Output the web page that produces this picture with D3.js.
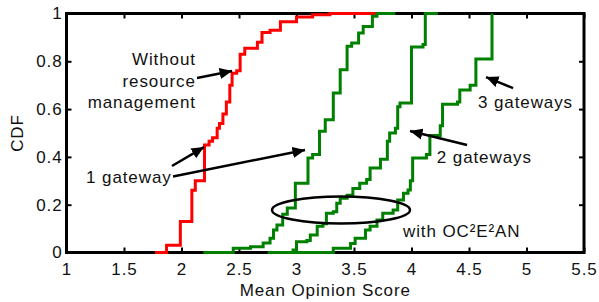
<!DOCTYPE html>
<html>
<head>
<meta charset="utf-8">
<script src="https://cdn.jsdelivr.net/npm/d3@7"></script>
<style>
  body { margin: 0; background: #fff; }
  text { font-family: "Liberation Sans", Arial, sans-serif; fill: #111; letter-spacing: 0.9px; }
</style>
</head>
<body>
<div id="chart"></div>
<script>
// step points: mean opinion score where cdf jumps, and cdf level after the jump
const noMgmtX = [1.77, 1.87, 1.99, 2.09, 2.12, 2.20, 2.24, 2.27, 2.31, 2.33, 2.36, 2.39, 2.42, 2.44, 2.48, 2.51, 2.55, 2.66, 2.70, 2.77, 2.86, 3.00, 3.14, 3.29, 3.69];
const noMgmtY = [0, 0.03, 0.13, 0.26, 0.30, 0.45, 0.465, 0.48, 0.52, 0.54, 0.58, 0.63, 0.70, 0.75, 0.76, 0.83, 0.855, 0.88, 0.92, 0.93, 0.965, 0.985, 0.995, 1, 1];

const gw1X = [2.19, 2.45, 2.60, 2.71, 2.77, 2.80, 2.83, 2.88, 2.92, 2.99, 3.10, 3.14, 3.20, 3.25, 3.32, 3.38, 3.44, 3.48, 3.54, 3.58, 3.66, 3.70, 3.86];
const gw1Y = [0, 0.018, 0.024, 0.04, 0.06, 0.094, 0.115, 0.16, 0.186, 0.29, 0.395, 0.41, 0.507, 0.555, 0.667, 0.765, 0.863, 0.877, 0.918, 0.946, 0.988, 1, 1];

const gw2X = [2.77, 2.97, 3.00, 3.09, 3.12, 3.18, 3.23, 3.26, 3.32, 3.35, 3.38, 3.44, 3.49, 3.55, 3.61, 3.64, 3.73, 3.79, 3.81, 3.86, 3.88, 3.90, 4.00, 4.10, 4.12, 4.23];
const gw2Y = [0, 0.01, 0.045, 0.05, 0.073, 0.11, 0.12, 0.164, 0.17, 0.206, 0.227, 0.24, 0.268, 0.29, 0.305, 0.354, 0.39, 0.465, 0.5, 0.52, 0.61, 0.626, 0.86, 0.87, 1, 1];

const gw3X = [2.75, 3.32, 3.47, 3.51, 3.60, 3.64, 3.70, 3.75, 3.84, 3.88, 3.93, 3.97, 3.99, 4.01, 4.13, 4.16, 4.25, 4.27, 4.40, 4.42, 4.51, 4.56, 4.70, 4.70];
const gw3Y = [0, 0.018, 0.038, 0.06, 0.094, 0.11, 0.136, 0.164, 0.178, 0.22, 0.248, 0.262, 0.30, 0.395, 0.41, 0.49, 0.53, 0.62, 0.63, 0.68, 0.70, 0.81, 1, 1];

const xTicks = [1, 1.5, 2, 2.5, 3, 3.5, 4, 4.5, 5, 5.5];
const yTicks = [0, 0.2, 0.4, 0.6, 0.8, 1];

const width = 599, height = 302;
const margin = {top: 13.5, right: 15, bottom: 49.5, left: 66.5};
const w = width - margin.left - margin.right;
const h = height - margin.top - margin.bottom;

const svg = d3.select('#chart').append('svg').attr('width', width).attr('height', height);
const g = svg.append('g').attr('transform', `translate(${margin.left},${margin.top})`);

const x = d3.scaleLinear().domain([1, 5.5]).range([0, w]);
const y = d3.scaleLinear().domain([0, 1]).range([h, 0]);

const fmt = d => String(d);

// ticks on all four sides, pointing inward
const axes = [
  [d3.axisBottom(x).tickValues(xTicks).tickFormat(fmt), `translate(0,${h})`, 10],
  [d3.axisTop(x).tickValues(xTicks).tickFormat(''), 'translate(0,0)', 10],
  [d3.axisLeft(y).tickValues(yTicks).tickFormat(fmt), 'translate(0,0)', 4],
  [d3.axisRight(y).tickValues(yTicks).tickFormat(''), `translate(${w},0)`, 4]
];
axes.forEach(([ax, tr, pad]) => {
  const a = g.append('g').attr('transform', tr)
    .call(ax.tickSizeInner(-5).tickSizeOuter(0).tickPadding(pad));
  a.select('.domain').remove();
  a.selectAll('line').attr('stroke', '#000').attr('stroke-width', 2);
  a.selectAll('text').style('font-size', '17px').attr('fill', '#111')
    .style('font-family', '"Liberation Sans", Arial, sans-serif');
});

// box first so the curves sit on top of it
g.append('rect').attr('width', w).attr('height', h)
  .attr('fill', 'none').attr('stroke', '#000').attr('stroke-width', 3);

const line = d3.line().x(d => x(d[0])).y(d => y(d[1])).curve(d3.curveStepAfter);
const series = [
  [noMgmtX, noMgmtY, '#ff0000'],
  [gw1X, gw1Y, '#008000'],
  [gw2X, gw2Y, '#008000'],
  [gw3X, gw3Y, '#008000']
];
series.forEach(([xs, ys, c]) => {
  g.append('path').datum(d3.zip(xs, ys))
    .attr('d', line).attr('fill', 'none').attr('stroke', c).attr('stroke-width', 3);
});

// annotations
const defs = svg.append('defs');
defs.append('marker').attr('id', 'head').attr('viewBox', '0 0 10 10')
  .attr('refX', 10).attr('refY', 5).attr('markerWidth', 5).attr('markerHeight', 5)
  .attr('markerUnits', 'strokeWidth').attr('orient', 'auto')
  .append('path').attr('d', 'M0,0.5 L10,5 L0,9.5 z').attr('fill', '#000');

const arrows = [
  [2.135, 0.730, 2.44, 0.759],
  [1.917, 0.362, 2.196, 0.441],
  [1.926, 0.318, 3.074, 0.429],
  [4.883, 0.688, 4.648, 0.734],
  [4.483, 0.450, 3.987, 0.508]
];
arrows.forEach(([x1, y1, x2, y2]) => {
  g.append('line').attr('x1', x(x1)).attr('y1', y(y1)).attr('x2', x(x2)).attr('y2', y(y2))
    .attr('stroke', '#000').attr('stroke-width', 2.5).attr('marker-end', 'url(#head)');
});

g.append('ellipse').attr('cx', x(3.387)).attr('cy', y(0.178))
  .attr('rx', x(3.987) - x(3.387)).attr('ry', y(0) - y(0.0565))
  .attr('fill', 'none').attr('stroke', '#000').attr('stroke-width', 2.5);

const labels = [
  ['Without', 2.125, 0.785, 'end'],
  ['resource', 2.125, 0.692, 'end'],
  ['management', 2.125, 0.604, 'end'],
  ['1 gateway', 1.17, 0.291, 'start'],
  ['3 gateways', 4.578, 0.605, 'start'],
  ['2 gateways', 4.22, 0.374, 'start'],
  ['with OC²E²AN', 3.926, 0.065, 'start']
];
labels.forEach(([t, lx, ly, anchor]) => {
  g.append('text').attr('x', x(lx)).attr('y', y(ly)).attr('text-anchor', anchor)
    .style('font-size', '17px').text(t);
});

svg.append('text').attr('x', margin.left + x(3.25)).attr('y', 296)
  .attr('text-anchor', 'middle').style('font-size', '17px').text('Mean Opinion Score');
svg.append('text').attr('transform', 'translate(23,133) rotate(-90)')
  .attr('text-anchor', 'middle').style('font-size', '17px').text('CDF');
</script>
</body>
</html>
